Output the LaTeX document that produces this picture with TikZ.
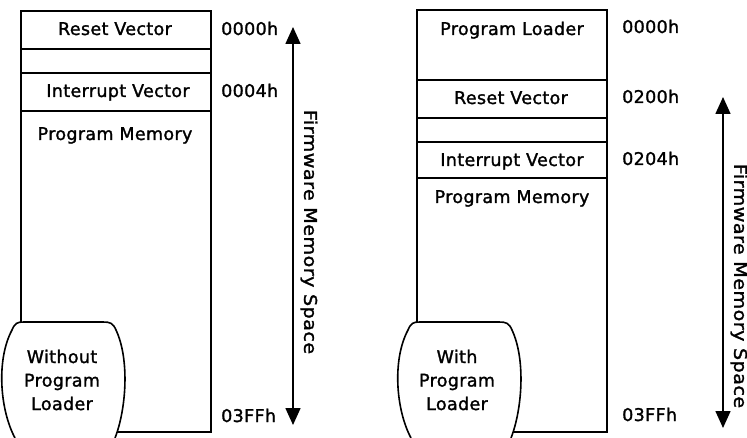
\documentclass[tikz,border=0pt]{standalone}
\usepackage{fontspec}
\setmainfont{DejaVu Sans}[LetterSpace=2, FakeBold=1.5]
\usetikzlibrary{arrows.meta}
\begin{document}
\begin{tikzpicture}[x=1pt,y=-1pt,
  seg/.style={draw, line width=1.6pt, minimum width=190pt, anchor=north west, inner sep=0pt, outer sep=0pt},
  txt/.style={font=\fontsize{17.5}{21}\selectfont, anchor=base, inner sep=0pt},
  addr/.style={font=\fontsize{17.5}{21}\selectfont, anchor=base west, inner sep=0pt},
  side/.style={font=\fontsize{17.5}{21}\selectfont, rotate=-90, inner sep=0pt},
  badgetxt/.style={font=\fontsize{17.5}{23.5}\selectfont, align=center, inner sep=0pt},
  span/.style={line width=1.6pt, {Triangle[width=15pt,length=17pt]}-{Triangle[width=15pt,length=17pt]}},
  badge/.style={draw, fill=white, line width=1.6pt}
]
\useasboundingbox (0,0) rectangle (747,438);

% ---------- left memory map ----------
\node[seg, minimum height=38pt] (lreset) at (21,11) {};
\node[seg, minimum height=24pt] (lgap)   at (21,49) {};
\node[seg, minimum height=38pt] (lint)   at (21,73) {};
\node[seg, minimum height=321pt] (lprog) at (21,111) {};

\node[txt] (lresett) at (115,35) {Reset Vector};
\node[txt] (lintt)   at (118,97) {Interrupt Vector};
\node[txt] (lprogt)  at (115,140) {Program Memory};

\node[addr] (la0) at (221,35) {0000h};
\node[addr] (la4) at (221,97) {0004h};
\node[addr] (laf) at (221,422) {03FFh};

\coordinate (ltop) at (293,27);
\coordinate (lbot) at (293,425);
\draw[span] (ltop) -- (lbot);
\node[side] (lside) at (309,232) {\scalebox{1.1}[1]{Firmware Memory Space}};

\draw[badge] (15,438) .. controls (0,410) and (-4,360) .. (12,330)
  .. controls (15,323) and (17,322) .. (24,322) -- (103,322)
  .. controls (110,322) and (113,323) .. (116,330)
  .. controls (130,360) and (126,410) .. (115,438);
\node[badgetxt] (lbadge) at (62,380) {Without\\Program\\Loader};

% ---------- right memory map ----------
\node[seg, minimum height=70pt]  (rload)  at (417,10) {};
\node[seg, minimum height=38pt]  (rreset) at (417,80) {};
\node[seg, minimum height=24pt]  (rgap)   at (417,118) {};
\node[seg, minimum height=36pt]  (rint)   at (417,142) {};
\node[seg, minimum height=254pt] (rprog)  at (417,178) {};

\node[txt] (rloadt)  at (512,35) {Program Loader};
\node[txt] (rresett) at (511,104) {Reset Vector};
\node[txt] (rintt)   at (512,166) {Interrupt Vector};
\node[txt] (rprogt)  at (512,203) {Program Memory};

\node[addr] (ra0) at (622,33) {0000h};
\node[addr] (ra2) at (622,103) {0200h};
\node[addr] (ra4) at (622,165) {0204h};
\node[addr] (raf) at (622,421) {03FFh};

\coordinate (rtop) at (723,97);
\coordinate (rbot) at (723,428);
\draw[span] (rtop) -- (rbot);
\node[side] (rside) at (739,286) {\scalebox{1.1}[1]{Firmware Memory Space}};

\begin{scope}[xshift=396pt]
\draw[badge] (15,438) .. controls (0,410) and (-4,360) .. (12,330)
  .. controls (15,323) and (17,322) .. (24,322) -- (103,322)
  .. controls (110,322) and (113,323) .. (116,330)
  .. controls (130,360) and (126,410) .. (115,438);
\end{scope}
\node[badgetxt] (rbadge) at (457,380) {With\\Program\\Loader};
\end{tikzpicture}
\end{document}
